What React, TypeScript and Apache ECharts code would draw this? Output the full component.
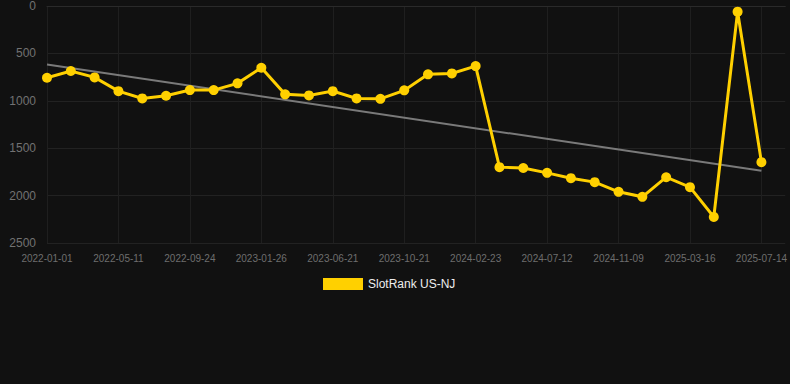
import React, { useEffect, useRef } from "react";
import * as echarts from "echarts";

const dates = [
  "2022-01-01", "2022-02-13", "2022-03-28",
  "2022-05-11", "2022-06-26", "2022-08-10",
  "2022-09-24", "2022-11-05", "2022-12-16",
  "2023-01-26", "2023-03-15", "2023-05-03",
  "2023-06-21", "2023-08-01", "2023-09-10",
  "2023-10-21", "2023-12-02", "2024-01-12",
  "2024-02-23", "2024-04-09", "2024-05-26",
  "2024-07-12", "2024-08-21", "2024-09-30",
  "2024-11-09", "2024-12-21", "2025-02-01",
  "2025-03-16", "2025-04-25", "2025-06-04",
  "2025-07-14",
];

const rankValues = [
  757, 686, 753, 898, 975, 947, 887, 887, 816, 651,
  932, 943, 898, 975, 979, 890, 721, 711, 634, 1700,
  1709, 1760, 1816, 1858, 1960, 2013, 1806, 1911, 2225, 60,
  1647,
];

const trendIndex = [0, 30];
const trendValues = [616, 1739];

const yTicks = [0, 500, 1000, 1500, 2000, 2500];

const seriesName = "SlotRank US-NJ";

export default function App() {
  const ref = useRef<HTMLDivElement>(null);

  useEffect(() => {
    document.body.style.margin = "0";
    const chart = echarts.init(ref.current!, null, { renderer: "svg" });
    chart.setOption({
      animation: false,
      backgroundColor: "#111111",
      grid: { left: 47, right: 4, top: 6, bottom: 141 },
      legend: {
        left: 318,
        top: 273,
        icon: "rect",
        itemWidth: 40,
        itemHeight: 12,
        itemGap: 6,
        textStyle: { color: "#eeeeee", fontSize: 12, fontFamily: "Liberation Sans, Arial, sans-serif" },
        data: [seriesName],
      },
      xAxis: {
        type: "value",
        min: 0,
        max: dates.length,
        interval: 3,
        axisLine: { show: true, lineStyle: { color: "#2a2a2a" } },
        axisTick: { show: false },
        axisLabel: {
          color: "#6e6e6e",
          fontSize: 10,
          margin: 10,
          showMaxLabel: false,
          fontFamily: "Liberation Sans, Arial, sans-serif",
          formatter: (v: number) => dates[v] ?? "",
        },
        splitLine: { show: true, showMaxLine: false, lineStyle: { color: "#1f1f1f" } },
      },
      yAxis: {
        type: "value",
        inverse: true,
        min: yTicks[0],
        max: yTicks[yTicks.length - 1],
        interval: 500,
        axisLine: { show: false },
        axisTick: { show: false },
        axisLabel: {
          color: "#727272",
          fontSize: 12,
          margin: 11,
          fontFamily: "Liberation Sans, Arial, sans-serif",
          formatter: (v: number) => String(v),
        },
        splitLine: { show: true, lineStyle: { color: "#222222" } },
      },
      series: [
        {
          name: "trend",
          type: "line",
          data: trendIndex.map((i, k) => [i, trendValues[k]]),
          symbol: "none",
          lineStyle: { color: "#7a7a7a", width: 2 },
          itemStyle: { color: "#7a7a7a" },
          silent: true,
          z: 1,
        },
        {
          name: seriesName,
          type: "line",
          data: rankValues.map((v, i) => [i, v]),
          symbol: "circle",
          symbolSize: 10,
          lineStyle: { color: "#ffd000", width: 3, join: "miter" },
          itemStyle: { color: "#ffd000" },
          z: 2,
        },
      ],
    });
    return () => chart.dispose();
  }, []);

  return <div ref={ref} style={{ width: 790, height: 384 }} />;
}
